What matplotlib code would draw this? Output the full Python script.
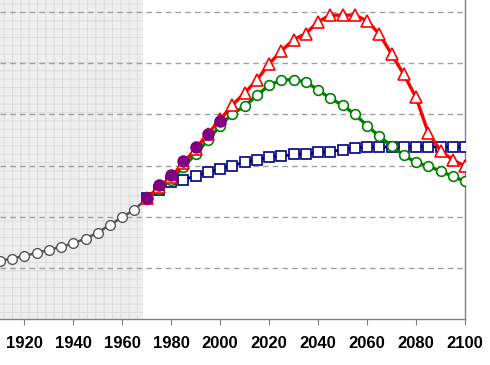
import numpy as np
import matplotlib
matplotlib.use("Agg")
import matplotlib.pyplot as plt

# historical (gray hollow circles)
hist_years = [1910, 1915, 1920, 1925, 1930, 1935, 1940, 1945, 1950, 1955, 1960, 1965, 1970]
hist_vals = [1.14, 1.18, 1.235, 1.29, 1.35, 1.41, 1.48, 1.57, 1.69, 1.84, 1.99, 2.14, 2.35]

# observed data (purple filled)
obs_years = [1970, 1975, 1980, 1985, 1990, 1995, 2000]
obs_vals = [2.36, 2.61, 2.82, 3.08, 3.37, 3.62, 3.87]

# scenario runs, 1970-2100 every 5 years
run_years = list(range(1970, 2101, 5))
red_vals = [2.36, 2.58, 2.78, 3.05, 3.33, 3.62, 3.90, 4.18, 4.42,
            4.67, 4.99, 5.24, 5.46, 5.58, 5.81, 5.94, 5.94, 5.94,
            5.83, 5.57, 5.18, 4.78, 4.33, 3.64, 3.29, 3.11, 2.99]
green_vals = [2.35, 2.54, 2.72, 2.97, 3.23, 3.50, 3.78, 4.01, 4.16,
              4.37, 4.57, 4.67, 4.68, 4.63, 4.48, 4.31, 4.18, 4.00,
              3.78, 3.57, 3.38, 3.20, 3.06, 2.99, 2.89, 2.79, 2.69]
blue_vals = [2.36, 2.53, 2.67, 2.72, 2.80, 2.87, 2.93, 3.00, 3.065,
             3.11, 3.16, 3.18, 3.22, 3.22, 3.26, 3.27, 3.31, 3.35,
             3.36, 3.36, 3.36, 3.36, 3.36, 3.37, 3.36, 3.36, 3.36]

xticks = [1920, 1940, 1960, 1980, 2000, 2020, 2040, 2060, 2080, 2100]

plt.rcParams['hatch.linewidth'] = 0.6
fig = plt.figure(figsize=(4.9, 3.65), dpi=100)
ax = fig.add_axes([0.0, 0.126, 465 / 490, 0.874])
ax.set_xlim(1910.07, 2100)
ax.set_ylim(0, 6.235)

# shaded historical zone with fine grid texture
ax.axvspan(1900, 1968.6, facecolor='#eeeeee', edgecolor='#dadada',
           hatch='++', lw=0, zorder=0)

for yv in range(1, 7):
    ax.axhline(yv, color='#a0a0a0', lw=1.0, ls=(0, (4, 3)), zorder=1)

ax.plot(hist_years, hist_vals, color='#555555', lw=1.8, marker='o', ms=7,
        mfc='white', mec='#555555', mew=1.0, zorder=3)
ax.plot(run_years, blue_vals, color='#000080', lw=2.0, marker='s', ms=6.5,
        mfc='white', mec='#000080', mew=1.2, zorder=4)
ax.plot(run_years, green_vals, color='#008000', lw=2.4, marker='o', ms=7,
        mfc='white', mec='#008000', mew=1.2, zorder=5)
ax.plot(run_years, red_vals, color='#ff0000', lw=2.4, marker='^', ms=8,
        mfc='white', mec='#ff0000', mew=1.2, zorder=6)
ax.plot(obs_years, obs_vals, ls='none', marker='o', ms=8,
        mfc='#800080', mec='#800080', zorder=7)

for s in ['top', 'left']:
    ax.spines[s].set_visible(False)
for s in ['bottom', 'right']:
    ax.spines[s].set_color('#808080')
    ax.spines[s].set_linewidth(1.0)

ax.set_yticks([])
ax.set_xticks(xticks)
ax.set_xticklabels([str(t) for t in xticks], fontsize=12, fontweight='bold',
                   family='Liberation Sans')
ax.tick_params(axis='x', direction='out', length=4, color='#808080', pad=8)

fig.savefig('out.png', dpi=100, facecolor='white')
